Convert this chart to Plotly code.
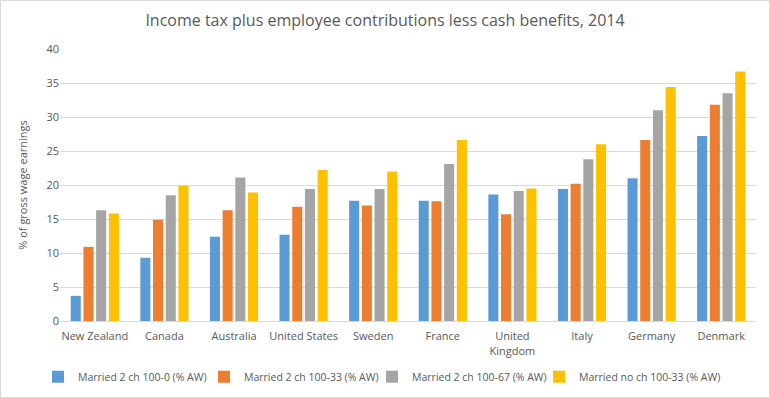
import plotly.graph_objects as go

countries = ["New Zealand", "Canada", "Australia", "United States", "Sweden",
             "France", "United<br>Kingdom", "Italy", "Germany", "Denmark"]
series_names = ["Married 2 ch 100-0 (% AW)", "Married 2 ch 100-33 (% AW)",
                "Married 2 ch 100-67 (% AW)", "Married no ch 100-33 (% AW)"]
s1 = [3.7, 9.3, 12.4, 12.7, 17.7, 17.7, 18.6, 19.4, 21.0, 27.2]
s2 = [10.9, 14.9, 16.3, 16.8, 17.0, 17.6, 15.7, 20.2, 26.6, 31.8]
s3 = [16.3, 18.5, 21.1, 19.4, 19.4, 23.1, 19.1, 23.8, 31.0, 33.5]
s4 = [15.8, 19.9, 18.9, 22.2, 22.0, 26.6, 19.5, 26.0, 34.4, 36.7]
colors = ["#5B9BD5", "#ED7D31", "#A5A5A5", "#FFC000"]

legend_ids = ["legend", "legend2", "legend3", "legend4"]
legend_x = [-0.0316, 0.2069, 0.4483, 0.6882]

fig = go.Figure()
for name, vals, c, lid in zip(series_names, [s1, s2, s3, s4], colors, legend_ids):
    fig.add_trace(go.Bar(x=countries, y=vals, name=name, marker_color=c,
                         marker_line_width=0, legend=lid))

font = "Open Sans, Segoe UI, sans-serif"
legend_style = dict(orientation="h", xanchor="left", y=-0.205, yanchor="middle",
                    font=dict(size=10.5, color="#595959"), itemwidth=30,
                    bgcolor="rgba(0,0,0,0)")
fig.update_layout(
    width=770, height=398,
    margin=dict(l=60, r=14, t=49, b=77, autoexpand=False),
    paper_bgcolor="white", plot_bgcolor="white",
    barmode="group", bargap=0.27, bargroupgap=0.21,
    title=dict(text="Income tax plus employee contributions less cash benefits, 2014",
               x=0.5, xanchor="center", y=0.95, yanchor="middle",
               font=dict(family=font, size=16, color="#595959")),
    font=dict(family=font, size=11, color="#595959"),
    showlegend=True,
    xaxis=dict(showgrid=False, showline=True, linecolor="#D9D9D9", linewidth=1,
               ticks="", ticklabelstandoff=5,
               tickfont=dict(size=11, color="#595959")),
    yaxis=dict(range=[0, 40], dtick=5, showgrid=True, gridcolor="#D9D9D9",
               gridwidth=1, zeroline=False, ticks="", showline=False,
               tickfont=dict(size=11, color="#595959"),
               title=dict(text="% of gross wage earnings", standoff=16,
                          font=dict(size=11, color="#595959"))),
)
for lid, lx in zip(legend_ids, legend_x):
    fig.update_layout({lid: dict(legend_style, x=lx)})

fig.add_shape(type="rect", xref="paper", yref="paper",
              x0=-59.5/696, x1=1 + 13.5/696, y0=-76.5/272, y1=1 + 48.5/272,
              line=dict(color="#D9D9D9", width=1), fillcolor="rgba(0,0,0,0)")
fig.write_html("out.html", config={"displayModeBar": False},
               post_script="document.body.style.margin='0px';")
